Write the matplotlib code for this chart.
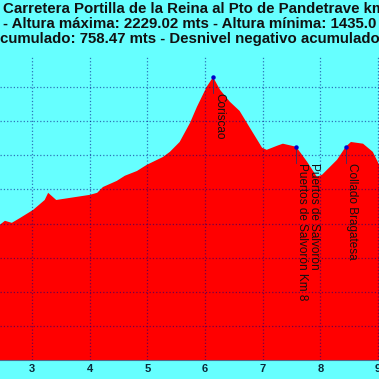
import matplotlib.pyplot as plt
import numpy as np

plt.rcParams['font.family'] = ['Liberation Sans', 'DejaVu Sans']

# profile (km, metres)
km = [2.44, 2.53, 2.65, 2.79, 3.02, 3.22, 3.28, 3.42, 4.00, 4.13, 4.23, 4.47,
      4.61, 4.82, 4.99, 5.27, 5.39, 5.56, 5.74, 5.86, 6.03, 6.14, 6.26, 6.43,
      6.60, 6.78, 6.99, 7.07, 7.25, 7.35, 7.58, 7.77, 7.94, 8.03, 8.29, 8.44,
      8.53, 8.74, 8.91, 9.02]
alt = [1796, 1808, 1802, 1816, 1840, 1869, 1890, 1869, 1884, 1890, 1907, 1925,
       1940, 1954, 1972, 1995, 2010, 2039, 2095, 2142, 2201, 2229, 2192, 2157,
       2130, 2080, 2022, 2016, 2028, 2034, 2025, 1981, 1937, 1943, 1987, 2025,
       2039, 2034, 2010, 1972]

# named points
pt_names = ['Coriscao', 'Puertos de Salvorón Km 8', 'Collado Bragatesa']
pt_km = [6.14, 7.58, 8.44]
pt_alt = [2229.02, 2025, 2025]
extra_name = 'Puertos de Salvorón'
extra_km = 7.78
extra_alt = 1978

xticks = [3, 4, 5, 6, 7, 8, 9]

title_lines = ['Carretera Portilla de la Reina al Pto de Pandetrave km',
               '- Altura máxima: 2229.02 mts - Altura mínima: 1435.0',
               'cumulado: 758.47 mts - Desnivel negativo acumulado']

bg = '#66ffff'
W = 379.0
fig = plt.figure(figsize=(3.79, 3.79), dpi=100, facecolor=bg)
ax = fig.add_axes([0, 19 / W, 1, (360 - 56) / W])
ax.set_facecolor(bg)

ax.fill_between(km, alt, 1300, color='#ff0000', lw=0, zorder=1)
ax.set_xlim(2.445, 9.017)
ax.set_ylim(1400, 2291)

ax.set_xticks(xticks)
ax.set_yticks(np.arange(1500, 2300, 100))
ax.grid(True, ls=':', color='#000080', alpha=0.55, lw=0.9, zorder=2)
ax.set_axisbelow(False)
ax.tick_params(length=0, labelsize=8, labelcolor='#0a2a3a', pad=3)
for lab in ax.get_xticklabels():
    lab.set_fontweight('bold')
ax.set_yticklabels([])
for s in ['top', 'left', 'right']:
    ax.spines[s].set_visible(False)
ax.spines['bottom'].set_color('#556688')
ax.spines['bottom'].set_linewidth(0.8)

off = 16 * 2.933
for name, x, y in zip(pt_names, pt_km, pt_alt):
    ax.plot([x, x], [y, y - off], color='#333366', lw=0.6, zorder=3)
    ax.plot(x, y, 'o', color='#0000cc', ms=2.2, zorder=4)
    ax.text(x, y - off, name, rotation=270, ha='left', va='top',
            fontsize=8.5, color='#111111', zorder=5)
ax.text(extra_km, extra_alt, extra_name, rotation=270, ha='left', va='top',
        fontsize=8.5, color='#111111', zorder=5)

for i, line in enumerate(title_lines):
    fig.text([3, 3, 0][i] / W, 1 - [13, 28, 43][i] / W, line, ha='left',
             va='baseline', fontsize=10.8, fontweight='bold', color='#111111')

fig.savefig('out.png', dpi=100, facecolor=bg)
